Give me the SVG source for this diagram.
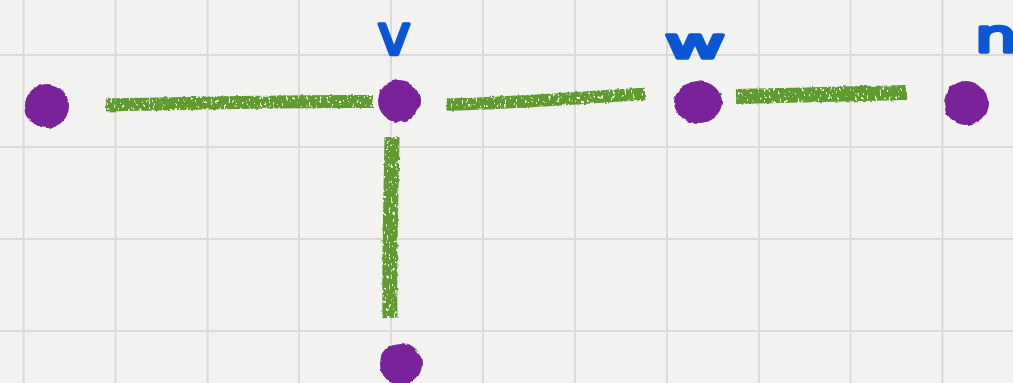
<svg xmlns="http://www.w3.org/2000/svg" width="1013" height="383" viewBox="0 0 1013 383">
  <style>
    .grid line { stroke: #dadad8; stroke-width: 2; }
    .edge { fill: none; stroke: #5f9b2d; stroke-linecap: butt; stroke-linejoin: round; filter: url(#chalk); }
    .dot { fill: #7a2199; filter: url(#rough); }
    .label { font-family: "DejaVu Sans", "Liberation Sans", sans-serif; fill: #0b56d4; stroke: #0b56d4; stroke-width: 3.5; stroke-linejoin: round; }
  </style>
  <defs>
    <filter id="chalk" filterUnits="userSpaceOnUse" x="0" y="0" width="1013" height="383">
      <feTurbulence type="fractalNoise" baseFrequency="0.18" numOctaves="2" seed="5" result="low"/>
      <feDisplacementMap in="SourceGraphic" in2="low" scale="3" xChannelSelector="R" yChannelSelector="G" result="rough"/>
      <feTurbulence type="fractalNoise" baseFrequency="0.45 0.25" numOctaves="2" seed="3" result="noise"/>
      <feColorMatrix in="noise" type="matrix" values="0 0 0 0 0  0 0 0 0 0  0 0 0 0 0  0 0 0 -16 11.2" result="holes"/>
      <feComposite in="rough" in2="holes" operator="in"/>
    </filter>
    <filter id="rough" filterUnits="userSpaceOnUse" x="0" y="0" width="1013" height="383">
      <feTurbulence type="fractalNoise" baseFrequency="0.12" numOctaves="2" seed="7" result="n"/>
      <feDisplacementMap in="SourceGraphic" in2="n" scale="4" xChannelSelector="R" yChannelSelector="G"/>
    </filter>
  </defs>
  <rect width="1013" height="383" fill="#f2f2f0"/>
  <g class="grid">
    <line x1="23.5" y1="0" x2="23.5" y2="383"/>
    <line x1="115.5" y1="0" x2="115.5" y2="383"/>
    <line x1="207.5" y1="0" x2="207.5" y2="383"/>
    <line x1="299" y1="0" x2="299" y2="383"/>
    <line x1="391" y1="0" x2="391" y2="383"/>
    <line x1="483" y1="0" x2="483" y2="383"/>
    <line x1="575" y1="0" x2="575" y2="383"/>
    <line x1="667" y1="0" x2="667" y2="383"/>
    <line x1="759" y1="0" x2="759" y2="383"/>
    <line x1="850.5" y1="0" x2="850.5" y2="383"/>
    <line x1="942.5" y1="0" x2="942.5" y2="383"/>
    <line x1="0" y1="55" x2="1013" y2="55"/>
    <line x1="0" y1="147" x2="1013" y2="147"/>
    <line x1="0" y1="239" x2="1013" y2="239"/>
    <line x1="0" y1="331" x2="1013" y2="331"/>
  </g>
  <g id="connectors">
    <path class="edge" d="M106,105 C200,103 300,101 373,101.5" stroke-width="13"/>
    <path class="edge" d="M447,104.5 C520,103 585,97 645,94" stroke-width="12.5"/>
    <path class="edge" d="M736,96.5 L906,92.5" stroke-width="15"/>
    <path class="edge" d="M392,137 C391,200 389,260 390,318" stroke-width="15"/>
  </g>
  <g id="node-a">
    <circle class="dot" cx="47" cy="106" r="22"/>
  </g>
  <g id="node-v">
    <circle class="dot" cx="399" cy="101" r="21"/>
    <text class="label" x="394" y="54" font-size="56" text-anchor="middle">v</text>
  </g>
  <g id="node-w">
    <ellipse class="dot" cx="698" cy="102" rx="24" ry="21"/>
    <text class="label" x="665" y="58" font-size="42" textLength="60" lengthAdjust="spacingAndGlyphs">w</text>
  </g>
  <g id="node-n">
    <circle class="dot" cx="966" cy="103" r="22"/>
    <text class="label" x="975" y="52" font-size="46" textLength="42" lengthAdjust="spacingAndGlyphs">n</text>
  </g>
  <g id="node-b">
    <circle class="dot" cx="401" cy="364" r="21"/>
  </g>
</svg>
